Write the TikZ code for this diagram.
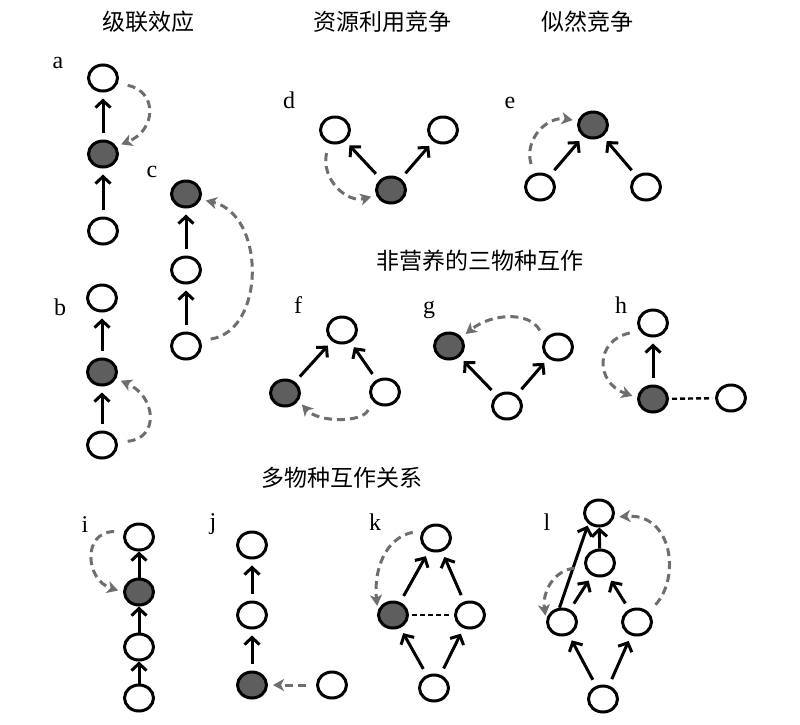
\documentclass[tikz,border=0pt]{standalone}
\usepackage{fontspec}
\setmainfont{Liberation Serif}
\newfontfamily\cjk{Noto Sans CJK SC}
\usetikzlibrary{shapes.geometric,arrows.meta}
\definecolor{keygray}{RGB}{94,94,94}
\definecolor{dashgray}{RGB}{110,110,110}

\begin{document}
\begin{tikzpicture}[x=1pt, y=1pt,
    sp/.style={ellipse, draw, line width=3pt, minimum width=29pt, minimum height=26pt, inner sep=0pt, fill=white},
    key/.style={sp, fill=keygray},
    eff/.style={-{Straight Barb[length=7pt,width=15pt]}, line width=3pt, shorten <=7pt, shorten >=6pt},
    ind/.style={dashgray, line width=3pt, dash pattern=on 8pt off 5pt, -{Stealth[length=11pt,width=12pt,inset=3pt]}, shorten <=10pt, shorten >=5pt},
    ntl/.style={line width=2.4pt, dash pattern=on 5pt off 3pt, shorten <=3pt, shorten >=3pt},
    title/.style={font=\cjk\fontsize{23}{23}\selectfont},
    lbl/.style={anchor=base, font=\fontsize{24}{24}\selectfont}]

\useasboundingbox (0,0) rectangle (800,-724);

% titles
\node[title] (t1) at (148,-22) {级联效应};
\node[title] (t2) at (382,-22) {资源利用竞争};
\node[title] (t3) at (587,-22) {似然竞争};
\node[title] (t4) at (480,-261) {非营养的三物种互作};
\node[title] (t5) at (342,-478) {多物种互作关系};

% panel letters
\foreach \n/\x/\y in {a/58/68, b/60/315, c/152/177, d/289/108, e/510/108, f/298/313,
    g/429/313, h/621/313, i/85/532, j/213/529, k/375/530, l/547/530}{
    \node[lbl] (lb\n) at (\x,-\y) {\n};
}

% species
\foreach \n/\x/\y in {
a1/103/78, a3/103/231, b1/102/298, b3/102/445, c2/186/270, c3/186/346,
d1/335/130, d2/443/130, e2/540/187, e3/646/187, f1/342/330, f3/385/392,
g2/558/347, g3/507/406, h1/653/323, h3/731/398,
i1/139/537, i3/139/647, i4/139/698, j1/252/545, j2/252/615, j4/332/685,
k1/436/538, k3/470/615, k4/434/688,
l1/599/513, l2/600/563, l3/562/622, l4/637/622, l5/603/699
}{
    \node[sp] (\n) at (\x,-\y) {};
}
\foreach \n/\x/\y in {
a2/103/154, b2/102/372, c1/186/194, d3/391/190, e1/593/125, f2/285/393,
g1/449/346, h2/653/399, i2/139/592, j3/252/685, k2/393/615
}{
    \node[key] (\n) at (\x,-\y) {};
}

% direct effects
\foreach \s/\t in {a2/a1, a3/a2, b2/b1, b3/b2, c2/c1, c3/c2, d3/d1, d3/d2,
    e2/e1, e3/e1, f2/f1, f3/f1, g3/g1, g3/g2, h2/h1, j2/j1, j3/j2,
    k2/k1, k3/k1, k4/k2, k4/k3, l3/l2, l4/l2, l5/l3, l5/l4}{
    \draw[eff] (\s) -- (\t);
}
\foreach \s/\t in {i2/i1, i3/i2, i4/i3, l2/l1}{
    \draw[eff, shorten <=0pt, shorten >=0pt] (\s) -- (\t);
}
\draw[eff, shorten <=0pt, shorten >=2pt] (l3.100) -- (l1.-135);

% non-trophic links
\draw[ntl] (h2) -- (h3);
\draw[ntl] (k2) -- (k3);

% indirect effects
\draw[ind] (a1.-20) .. controls +(40,-8) and +(40,16) .. (a2.30);
\draw[ind] (b3.10) .. controls +(42,4) and +(40,-18) .. (b2.-25);
\draw[ind] (c3.20) .. controls +(65,10) and +(65,-15) .. (c1.-20);
\draw[ind] (d1.-115) .. controls +(-8,-35) and +(-30,-8) .. (d3.200);
\draw[ind] (e2.115) .. controls +(-10,35) and +(-30,5) .. (e1.165);
\draw[ind] (f3.-145) .. controls +(-10,-22) and +(20,-22) .. (f2.-30);
\draw[ind] (g2.150) .. controls +(-15,28) and +(30,24) .. (g1.35);
\draw[ind] (h1.-150) .. controls +(-45,-10) and +(-42,15) .. (h2.175);
\draw[ind] (i1.160) .. controls +(-42,0) and +(-38,12) .. (i2.180);
\draw[ind] (j4) -- (j3);
\draw[ind] (k1.150) .. controls +(-38,-8) and +(-4,40) .. (k2.165);
\draw[ind] (l4.40) .. controls +(32,35) and +(58,4) .. (l1.-15);
\draw[ind] (l2.195) .. controls +(-30,-3) and +(-4,30) .. (l3.175);

\end{tikzpicture}
\end{document}
